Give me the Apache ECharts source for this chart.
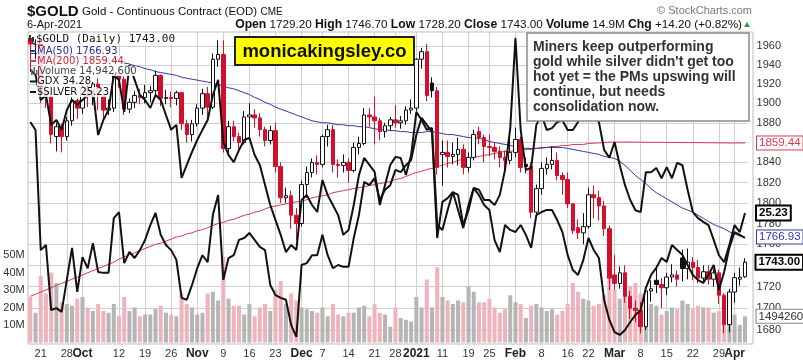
<!DOCTYPE html>
<html><head><meta charset="utf-8">
<script src="https://cdn.jsdelivr.net/npm/echarts@6/dist/echarts.min.js"></script>
<style>html,body{margin:0;padding:0;background:#fff}#c{width:803px;height:363px}</style>
</head><body><div id="c"></div>
<script>
const dates = ['2020-09-17','2020-09-18','2020-09-21','2020-09-22','2020-09-23','2020-09-24','2020-09-25','2020-09-28','2020-09-29','2020-09-30',
'2020-10-01','2020-10-02','2020-10-05','2020-10-06','2020-10-07','2020-10-08','2020-10-09','2020-10-12','2020-10-13','2020-10-14','2020-10-15','2020-10-16','2020-10-19','2020-10-20','2020-10-21','2020-10-22','2020-10-23','2020-10-26','2020-10-27','2020-10-28','2020-10-29','2020-10-30',
'2020-11-02','2020-11-03','2020-11-04','2020-11-05','2020-11-06','2020-11-09','2020-11-10','2020-11-11','2020-11-12','2020-11-13','2020-11-16','2020-11-17','2020-11-18','2020-11-19','2020-11-20','2020-11-23','2020-11-24','2020-11-25','2020-11-27','2020-11-30',
'2020-12-01','2020-12-02','2020-12-03','2020-12-04','2020-12-07','2020-12-08','2020-12-09','2020-12-10','2020-12-11','2020-12-14','2020-12-15','2020-12-16','2020-12-17','2020-12-18','2020-12-21','2020-12-22','2020-12-23','2020-12-24','2020-12-28','2020-12-29','2020-12-30','2020-12-31',
'2021-01-04','2021-01-05','2021-01-06','2021-01-07','2021-01-08','2021-01-11','2021-01-12','2021-01-13','2021-01-14','2021-01-15','2021-01-19','2021-01-20','2021-01-21','2021-01-22','2021-01-25','2021-01-26','2021-01-27','2021-01-28','2021-01-29',
'2021-02-01','2021-02-02','2021-02-03','2021-02-04','2021-02-05','2021-02-08','2021-02-09','2021-02-10','2021-02-11','2021-02-12','2021-02-16','2021-02-17','2021-02-18','2021-02-19','2021-02-22','2021-02-23','2021-02-24','2021-02-25','2021-02-26',
'2021-03-01','2021-03-02','2021-03-03','2021-03-04','2021-03-05','2021-03-08','2021-03-09','2021-03-10','2021-03-11','2021-03-12','2021-03-15','2021-03-16','2021-03-17','2021-03-18','2021-03-19','2021-03-22','2021-03-23','2021-03-24','2021-03-25','2021-03-26','2021-03-29','2021-03-30','2021-03-31',
'2021-04-01','2021-04-05','2021-04-06'];

const open = [1968,1962,1963,1912,1907,1866,1876,1866,1882,1903,
1895,1916,1907,1920,1908,1893,1895,1930,1925,1894,1901,1908,1906,1911,1913,1929,1905,1906,1905,1911,1879,1868,
1879,1895,1910,1896,1946,1951,1854,1876,1866,1860,1886,1888,1885,1873,1862,1872,1836,1805,1807,1788,
1780,1818,1830,1840,1838,1866,1873,1838,1837,1840,1832,1855,1859,1888,1886,1882,1871,1877,1883,1880,1882,1893,
1895,1946,1954,1921,1913,1848,1850,1846,1848,1853,1835,1845,1871,1865,1856,1855,1851,1845,1842,
1850,1863,1838,1836,1791,1814,1834,1838,1842,1827,1823,1799,1776,1771,1777,1808,1805,1797,1775,
1731,1723,1733,1711,1700,1698,1683,1716,1726,1722,1719,1729,1731,1747,1737,1743,1738,1728,1734,1727,1733,1712,1685,
1715,1727,1729.2];
const high = [1971,1967,1966,1918,1911,1880,1879,1886,1906,1905,
1922,1924,1922,1926,1912,1904,1935,1934,1928,1905,1913,1915,1919,1918,1934,1930,1914,1912,1913,1912,1883,1883,
1899,1915,1917,1952,1966,1966,1882,1882,1870,1892,1900,1894,1890,1876,1877,1880,1840,1815,1812,1795,
1822,1836,1844,1847,1868,1878,1878,1843,1848,1844,1860,1866,1895,1895,1907,1885,1880,1886,1898,1887,1897,1904,
1947,1958,1962,1927,1917,1862,1862,1860,1865,1858,1850,1873,1876,1868,1868,1860,1856,1852,1868,
1875,1866,1845,1840,1818,1840,1845,1856,1850,1830,1830,1800,1784,1790,1815,1817,1812,1802,1778,
1750,1739,1740,1716,1707,1706,1720,1726,1740,1728,1733,1741,1735,1755,1756,1748,1745,1740,1740,1736,1736,1714,1718,
1733,1738,1746.7];
const low = [1933,1946,1900,1895,1859,1851,1850,1862,1877,1884,
1889,1896,1898,1893,1882,1888,1891,1916,1888,1890,1895,1899,1900,1901,1906,1897,1899,1896,1898,1873,1860,1861,
1876,1888,1882,1894,1938,1850,1847,1861,1852,1858,1865,1875,1866,1856,1858,1830,1800,1800,1775,1764,
1777,1805,1825,1828,1835,1856,1830,1825,1830,1820,1830,1848,1857,1876,1858,1862,1865,1872,1875,1874,1878,1889,
1892,1936,1902,1906,1828,1817,1835,1838,1837,1828,1830,1842,1858,1840,1846,1843,1835,1830,1838,
1845,1830,1829,1785,1785,1808,1828,1833,1822,1808,1795,1770,1765,1760,1775,1785,1783,1768,1717,
1717,1718,1705,1690,1687,1677,1680,1706,1714,1700,1712,1724,1720,1725,1727,1726,1723,1723,1722,1720,1704,1677,1678,
1705,1721,1728.2];
const close = [1962,1963,1910,1907,1868,1876,1866,1882,1903,1895,
1916,1907,1920,1908,1893,1895,1930,1925,1894,1901,1908,1906,1911,1913,1929,1905,1906,1905,1911,1879,1868,1879,
1895,1910,1896,1946,1951,1854,1876,1866,1860,1886,1888,1885,1873,1862,1872,1836,1805,1807,1788,1780,
1818,1830,1840,1838,1866,1873,1838,1837,1840,1832,1855,1859,1888,1886,1882,1871,1877,1883,1880,1882,1893,1895,
1946,1954,1908,1913,1835,1850,1846,1848,1853,1835,1845,1868,1865,1856,1855,1851,1845,1842,1850,
1863,1835,1836,1791,1814,1834,1838,1842,1827,1823,1799,1773,1771,1777,1808,1805,1797,1775,1728,
1723,1733,1711,1700,1698,1683,1716,1718,1722,1719,1729,1731,1727,1737,1743,1738,1728,1734,1727,1733,1712,1685,1715,
1728.4,1728.8,1743.0];
const priorClose = 1970;

const volumeM = [26,17,38,28,40,34,23,22,21,25,
26,20,18,22,18,17,22,15,26,18,20,15,16,16,19,21,17,16,15,28,22,20,
16,17,28,29,24,49,25,21,21,16,22,15,20,22,18,30,35,22,28,24,
20,19,18,17,20,15,22,16,15,17,17,20,21,15,22,17,16,9,20,14,13,12,
26,20,36,20,43,26,24,22,24,23,32,29,23,23,25,20,17,19,27,
23,22,14,21,22,20,18,19,16,18,22,34,29,25,24,21,22,27,37,
30,25,28,32,34,28,24,22,21,16,18,20,19,24,22,19,21,20,20,17,18,21,17,
16,10,14.9426];

const ma50 = [1952,1952,1951,1951,1950,1950,1949,1949,1948,1948,
1947,1947,1946,1946,1946,1945,1945,1944,1942,1941,1939,1938,1936,1935,1933,1932,1931,1930,1929,1927,1926,1925,
1924,1923,1922,1921,1919,1918,1916,1915,1913,1911,1909,1906,1904,1901,1899,1896,1894,1892,1890,1888,
1886,1884,1882,1881,1880,1880,1879,1878,1878,1877,1877,1876,1876,1875,1874,1873,1873,1872,1872,1871,1871,1870,
1870,1870,1871,1871,1870,1869,1868,1868,1867,1866,1865,1865,1864,1863,1861,1860,1859,1858,1857,
1856,1855,1854,1854,1854,1855,1855,1855,1855,1855,1854,1853,1852,1851,1850,1849,1848,1846,1845,
1844,1841,1837,1832,1827,1823,1819,1814,1810,1807,1804,1801,1798,1795,1793,1791,1788,1785,1782,1779,1777,1775,1772,
1770,1768,1766.93];
const ma200 = [1711,1713,1715,1717,1719,1721,1723,1725,1727,1729,
1731,1733,1735,1737,1739,1741,1743,1746,1748,1750,1752,1754,1756,1758,1760,1761,1763,1765,1767,1768,1770,1771,
1773,1774,1776,1778,1780,1781,1783,1784,1786,1788,1789,1791,1792,1794,1796,1797,1798,1799,1800,1801,
1802,1803,1805,1806,1807,1808,1810,1811,1812,1813,1814,1815,1816,1817,1818,1819,1820,1821,1823,1824,1826,1828,
1830,1831,1833,1834,1836,1837,1839,1840,1842,1843,1844,1845,1846,1847,1848,1849,1850,1851,1851,
1852,1852,1853,1853,1854,1854,1855,1856,1856,1857,1857,1858,1858,1858,1859,1859.3,1859.6,1860.0,1860.3,
1860.3,1860.4,1860.4,1860.4,1860.3,1860.3,1860.2,1860.2,1860.2,1860.1,1860.1,1860.0,1860.0,1859.9,1859.9,1859.9,1859.8,1859.8,1859.7,1859.7,1859.6,1859.6,1859.5,
1859.5,1859.5,1859.44];

const gdx = [40.74,40.55,39.59,39.78,38.63,38.82,38.44,39.20,39.59,39.40,
39.59,39.78,39.97,38.24,38.82,39.20,40.55,40.36,39.13,40.93,40.36,39.78,39.59,39.28,39.78,39.59,39.01,38.44,38.63,36.59,37.09,37.59,
38.05,38.44,38.82,39.78,40.36,37.97,37.47,37.20,37.66,38.05,38.13,37.47,37.09,36.32,35.55,34.97,34.40,33.74,34.01,33.82,
35.74,35.93,35.55,35.28,36.51,35.93,35.55,35.16,34.40,34.59,35.55,36.70,37.36,37.09,36.82,35.55,36.32,37.09,37.40,37.36,36.70,37.47,
39.13,38.82,38.44,38.51,34.78,34.59,35.36,36.05,35.36,34.66,35.55,36.20,35.93,35.55,35.36,34.20,33.74,34.78,34.59,
34.51,34.78,34.40,33.90,35.16,35.28,35.36,35.36,34.97,34.51,33.63,33.05,32.86,33.43,34.28,33.82,33.51,31.90,31.13,
30.66,30.55,30.74,31.05,31.32,31.51,32.36,32.86,33.13,33.51,33.36,34.01,33.82,33.63,33.24,32.86,32.66,32.55,32.86,33.24,32.28,32.97,33.90,
34.51,34.40,34.28];
const silver = [27.19,27.02,24.43,24.54,23.14,23.18,23.10,23.79,24.48,23.53,
24.28,24.04,24.58,23.96,23.94,23.94,25.12,25.25,24.15,24.39,24.26,24.43,24.65,24.97,25.23,24.76,24.54,24.43,24.22,23.40,23.36,23.68,
24.04,24.32,24.17,25.19,25.62,23.79,24.26,24.32,24.65,24.69,24.80,24.65,24.50,24.43,23.68,23.46,23.40,23.36,22.82,22.56,
24.11,24.15,24.32,24.32,24.76,24.32,24.04,24.11,24.07,24.07,24.69,25.19,25.90,25.83,25.98,25.51,25.73,25.83,26.16,26.11,26.26,26.37,
26.91,27.28,27.13,26.98,24.69,25.47,25.55,25.68,25.62,24.97,25.29,25.77,25.73,25.51,25.51,25.40,25.62,26.16,27.06,
29.00,27.02,26.16,26.20,27.13,27.34,27.02,27.06,27.19,27.23,27.02,27.02,27.19,27.45,27.88,27.34,27.19,26.59,26.42,
26.76,26.26,25.83,25.51,25.29,25.25,26.11,26.11,26.20,25.98,26.22,25.98,26.31,26.26,25.73,25.25,25.12,25.04,24.97,24.65,24.32,24.17,24.54,
24.97,24.82,25.23];

const tickDays = ['2020-09-21','2020-09-28','2020-10-01','2020-10-12','2020-10-19','2020-10-26','2020-11-02','2020-11-09','2020-11-16','2020-11-23','2020-12-01','2020-12-07','2020-12-14','2020-12-21','2020-12-28','2021-01-04','2021-01-11','2021-01-19','2021-01-25','2021-02-01','2021-02-08','2021-02-16','2021-02-22','2021-03-01','2021-03-08','2021-03-15','2021-03-22','2021-03-29','2021-04-01'];
const tickTexts = ['21','28','Oct','12','19','26','Nov','9','16','23','Dec','7','14','21','28','2021','11','19','25','Feb','8','16','22','Mar','8','15','22','29','Apr'];
const monthTicks = ['Oct','Nov','Dec','2021','Feb','Mar','Apr'];
const priceTicks = [1680,1700,1720,1740,1760,1780,1800,1820,1840,1860,1880,1900,1920,1940,1960];
const volumeTicksMax = 50;

const FONT = '"Liberation Sans", Arial, sans-serif';
const RED = '#d2102e';
const MA50C = '#3636a8';
const MA200C = '#d83a52';
const GRIDC = '#cfcfcf';
const last = dates.length - 1;

const candleData = dates.map((d, i) => {
  const pc = i ? close[i - 1] : priorClose;
  const col = close[i] >= pc ? '#111' : RED;
  const fill = close[i] > open[i] ? '#fff' : col;
  return { value: [open[i], close[i], low[i], high[i]],
    itemStyle: { color: fill, color0: fill, borderColor: col, borderColor0: col, borderWidth: 1 } };
});
const volData = volumeM.map((v, i) => {
  const pc = i ? close[i - 1] : priorClose;
  return { value: v, itemStyle: { color: close[i] >= pc ? '#b5b5b5' : '#f1b3bb' } };
});

const tagLabel = (txt, border, color, bold, bw) => ({
  show: true, formatter: () => txt, fontFamily: FONT, fontSize: 11.5, color: color,
  fontWeight: bold ? 'bold' : 'normal', backgroundColor: '#fff', borderColor: border,
  borderWidth: bw, padding: [1, 2, 0, 2], distance: 12
});

const chg = close[last] - close[last - 1];
const pct = chg / close[last - 1] * 100;
const fmtInt = n => Math.round(n).toString().replace(/\B(?=(\d{3})+(?!\d))/g, ',');

// alternate tick labels between two bottom axes so neighbours never collide
const tickParity = v => { const k = tickDays.indexOf(v); return k < 0 ? -1 : k % 2; };
const tickFormatter = v => { const k = tickDays.indexOf(v); if (k < 0) return ''; const t = tickTexts[k]; return monthTicks.indexOf(t) >= 0 ? '{b|' + t + '}' : t; };
const xLabelAxis = (parity) => ({
  type: 'category', gridIndex: 0, data: dates, boundaryGap: true, position: 'bottom',
  axisLine: { show: false }, axisTick: { show: false }, splitLine: { show: false },
  axisLabel: {
    interval: (i, v) => tickParity(v) === parity, hideOverlap: false, showMaxLabel: true, showMinLabel: true,
    formatter: tickFormatter, fontFamily: FONT, fontSize: 11, color: '#333', margin: 4,
    rich: { b: { fontFamily: FONT, fontSize: 12, fontWeight: 'bold', color: '#222' } }
  }
});

const option = {
  animation: false,
  backgroundColor: '#fff',
  grid: [
    { left: 27.7, right: 55.4, top: 32, bottom: 19 },
    { left: 27.7, right: 55.4, top: 45, bottom: 20.5 }
  ],
  xAxis: [
    xLabelAxis(0),
    { type: 'category', gridIndex: 1, data: dates, boundaryGap: true, show: false },
    xLabelAxis(1)
  ],
  yAxis: [
    { type: 'log', gridIndex: 0, position: 'right', min: 1667.29, max: 1974.95, logBase: 10,
      axisLine: { show: false }, axisTick: { show: false }, axisLabel: { show: false }, splitLine: { show: false } },
    { type: 'value', gridIndex: 1, position: 'left', min: 0, max: 170, interval: 10,
      axisLine: { show: false }, axisTick: { show: false }, splitLine: { show: false },
      axisLabel: { formatter: v => (v > 0 && v <= volumeTicksMax) ? v + 'M' : '', fontFamily: FONT, fontSize: 11, color: '#333', margin: 3 } },
    { type: 'value', gridIndex: 0, min: 30.203, max: 42.203, show: false },
    { type: 'value', gridIndex: 0, min: 22.407, max: 29.131, show: false }
  ],
  series: [
    { type: 'line', name: 'grid', xAxisIndex: 0, yAxisIndex: 0, data: ma200, showSymbol: false, lineStyle: { opacity: 0 }, silent: true, z: 0,
      markLine: { silent: true, symbol: 'none', animation: false, z: 0, precision: 0,
        lineStyle: { color: GRIDC, width: 1, type: 'solid' },
        label: { show: false },
        emphasis: { disabled: true },
        data: priceTicks.map(p => ({ yAxis: p, label: { show: true, position: 'end', formatter: String(p), distance: 9, fontFamily: FONT, fontSize: 11, color: '#333' } }))
          .concat(tickDays.map(d => ({ xAxis: d }))) } },
    { type: 'bar', name: 'Volume', xAxisIndex: 1, yAxisIndex: 1, data: volData, barWidth: 4, z: 1, silent: true,
      markPoint: { symbol: 'rect', symbolSize: 1, itemStyle: { color: 'rgba(0,0,0,0)' }, silent: true,
        data: [{ coord: [last, volumeM[last]], value: volumeM[last] }],
        label: Object.assign(tagLabel(String(Math.round(volumeM[last] * 1e6)), '#888', '#333', false, 1), { position: 'right', distance: 11 }) } },
    { type: 'line', name: 'MA200', xAxisIndex: 0, yAxisIndex: 0, data: ma200, symbol: 'none', z: 3, silent: true,
      lineStyle: { color: MA200C, width: 1 }, endLabel: tagLabel(ma200[last].toFixed(2), MA200C, MA200C, false, 1) },
    { type: 'line', name: 'MA50', xAxisIndex: 0, yAxisIndex: 0, data: ma50, symbol: 'none', z: 3, silent: true,
      lineStyle: { color: MA50C, width: 1 }, endLabel: tagLabel(ma50[last].toFixed(2), MA50C, MA50C, false, 1) },
    { type: 'candlestick', name: '$GOLD', xAxisIndex: 0, yAxisIndex: 0, data: candleData, barWidth: 4, z: 4, silent: true,
      markPoint: { symbol: 'rect', symbolSize: 1, itemStyle: { color: 'rgba(0,0,0,0)' }, silent: true,
        data: [{ coord: [last, close[last]], value: close[last] }],
        label: Object.assign(tagLabel(close[last].toFixed(2), '#000', '#000', true, 2), { position: 'right', distance: 11 }) } },
    { type: 'line', name: 'GDX', xAxisIndex: 0, yAxisIndex: 2, data: gdx, symbol: 'none', z: 5, silent: true,
      lineStyle: { color: '#111', width: 2 } },
    { type: 'line', name: '$SILVER', xAxisIndex: 0, yAxisIndex: 3, data: silver, symbol: 'none', z: 5, silent: true,
      lineStyle: { color: '#111', width: 2 }, endLabel: tagLabel(silver[last].toFixed(2), '#000', '#000', true, 2) }
  ],
  graphic: [
    { type: 'rect', shape: { x: 28, y: 32, width: 725, height: 312 }, style: { fill: 'none', stroke: '#bdbdbd', lineWidth: 1 }, z: -10, silent: true },
    { type: 'text', x: 27, y: 12, z: 50, style: { text: '{a|$GOLD} {b|Gold - Continuous Contract (EOD)} {c|CME}', verticalAlign: 'middle',
      rich: { a: { fontFamily: FONT, fontSize: 15, fontWeight: 'bold', fill: '#111' }, b: { fontFamily: FONT, fontSize: 11.5, fill: '#111' }, c: { fontFamily: FONT, fontSize: 10, fill: '#111' } } } },
    { type: 'text', x: 27, y: 25, z: 50, style: { text: '6-Apr-2021', font: '11px ' + FONT, fill: '#111', verticalAlign: 'middle' } },
    { type: 'text', x: 742, y: 25, z: 50, style: { align: 'right', verticalAlign: 'middle',
      text: '{b|Open} ' + open[last].toFixed(2) + ' {b|High} ' + high[last].toFixed(2) + ' {b|Low} ' + low[last].toFixed(2) + ' {b|Close} ' + close[last].toFixed(2) + ' {b|Volume} ' + volumeM[last].toFixed(1) + 'M {b|Chg} +' + chg.toFixed(2) + ' (+' + pct.toFixed(2) + '%)',
      font: '11.7px ' + FONT, fill: '#111', rich: { b: { fontFamily: FONT, fontSize: 12.2, fontWeight: 'bold', fill: '#111' } } } },
    { type: 'polygon', shape: { points: [[744, 27], [750, 27], [747, 22]] }, style: { fill: '#2c9c3a' }, z: 50 },
    { type: 'text', x: 752, y: 11, z: 50, style: { text: '\u00a9 StockCharts.com', align: 'right', verticalAlign: 'middle', font: '11px ' + FONT, fill: '#7a7a7a' } },
    { type: 'rect', shape: { x: 29, y: 35, width: 2, height: 6 }, style: { fill: '#333' }, z: 51 },
    { type: 'rect', shape: { x: 32, y: 37, width: 2, height: 5 }, style: { fill: '#333' }, z: 51 },
    { type: 'text', x: 36, y: 39, z: 50, style: { text: '$GOLD (Daily) ' + close[last].toFixed(2), font: '11px "DejaVu Sans Mono"', fill: '#111', verticalAlign: 'middle', backgroundColor: 'rgba(255,255,255,0.85)' } },
    { type: 'line', shape: { x1: 30, y1: 51, x2: 36, y2: 51 }, style: { stroke: MA50C, lineWidth: 2 }, z: 51 },
    { type: 'text', x: 37, y: 51, z: 50, style: { text: 'MA(50) ' + ma50[last].toFixed(2), font: '10px "DejaVu Sans"', fill: '#2b2b9c', verticalAlign: 'middle', backgroundColor: 'rgba(255,255,255,0.85)' } },
    { type: 'line', shape: { x1: 30, y1: 61, x2: 36, y2: 61 }, style: { stroke: MA200C, lineWidth: 2 }, z: 51 },
    { type: 'text', x: 37, y: 61, z: 50, style: { text: 'MA(200) ' + ma200[last].toFixed(2), font: '10px "DejaVu Sans"', fill: '#cc2a3a', verticalAlign: 'middle', backgroundColor: 'rgba(255,255,255,0.85)' } },
    { type: 'rect', shape: { x: 31, y: 69, width: 1.5, height: 6 }, style: { fill: '#666' }, z: 51 },
    { type: 'rect', shape: { x: 33.5, y: 67, width: 1.5, height: 8 }, style: { fill: '#666' }, z: 51 },
    { type: 'rect', shape: { x: 36, y: 70, width: 1.5, height: 5 }, style: { fill: '#666' }, z: 51 },
    { type: 'text', x: 39, y: 71, z: 50, style: { text: 'Volume ' + fmtInt(volumeM[last] * 1e6), font: '10px "DejaVu Sans"', fill: '#444', verticalAlign: 'middle', backgroundColor: 'rgba(255,255,255,0.85)' } },
    { type: 'line', shape: { x1: 30, y1: 81.5, x2: 36, y2: 81.5 }, style: { stroke: '#111', lineWidth: 2 }, z: 51 },
    { type: 'text', x: 37, y: 81.5, z: 50, style: { text: 'GDX ' + gdx[last].toFixed(2), font: '10px "DejaVu Sans"', fill: '#111', verticalAlign: 'middle', backgroundColor: 'rgba(255,255,255,0.85)' } },
    { type: 'line', shape: { x1: 30, y1: 92, x2: 36, y2: 92 }, style: { stroke: '#111', lineWidth: 2 }, z: 51 },
    { type: 'text', x: 37, y: 92, z: 50, style: { text: '$SILVER ' + silver[last].toFixed(2), font: '10px "DejaVu Sans"', fill: '#111', verticalAlign: 'middle', backgroundColor: 'rgba(255,255,255,0.85)' } },
    { type: 'rect', shape: { x: 235, y: 37, width: 179, height: 28 }, style: { fill: '#ffff00', stroke: '#222', lineWidth: 2 }, z: 60 },
    { type: 'text', x: 324.5, y: 51.5, z: 61, style: { text: 'monicakingsley.co', align: 'center', verticalAlign: 'middle', font: 'bold 18.5px ' + FONT, fill: '#111' } },
    { type: 'rect', shape: { x: 527, y: 33, width: 222, height: 88 }, style: { fill: '#fff', stroke: '#8a8a8a', lineWidth: 1.5 }, z: 60 },
    { type: 'text', x: 533, y: 40, z: 61, style: { text: "Miners keep outperforming\ngold while silver didn't get too\nhot yet = the PMs upswing will\ncontinue, but needs\nconsolidation now.", font: 'bold 14px ' + FONT, fill: '#333', lineHeight: 15, verticalAlign: 'top' } }
  ]
};
echarts.init(document.getElementById('c'), null, { renderer: 'canvas' }).setOption(option);
</script>
</body></html>
